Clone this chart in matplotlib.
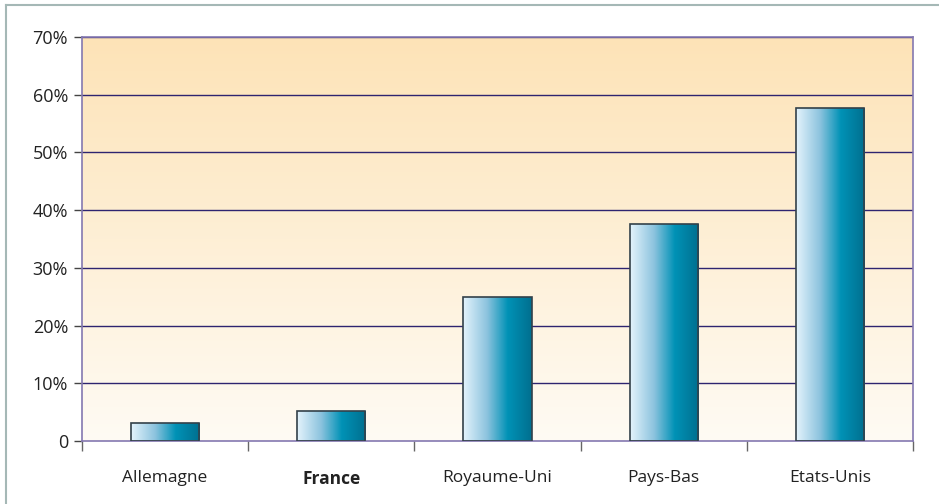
import numpy as np
import matplotlib.pyplot as plt
from matplotlib.colors import LinearSegmentedColormap
from matplotlib.lines import Line2D

# données
pays = ['Allemagne', 'France', 'Royaume-Uni', 'Pays-Bas', 'Etats-Unis']
valeurs = [3.1, 5.2, 25.0, 37.6, 57.7]
yticks = [0, 10, 20, 30, 40, 50, 60, 70]
ylabels = ['0', '10%', '20%', '30%', '40%', '50%', '60%', '70%']

plt.rcParams['font.family'] = ['Open Sans', 'DejaVu Sans']

fig = plt.figure(figsize=(9.39, 5.04), dpi=100)
ax = fig.add_axes([82/939, 1-441/504, (913-82)/939, (441-37)/504])
ax.set_xlim(-0.5, 4.5)
ax.set_ylim(0, 70)

# fond dégradé
fond = LinearSegmentedColormap.from_list('fond', ['#fffbf4', '#fde3b7'])
ax.imshow(np.linspace(0, 1, 256).reshape(-1, 1), cmap=fond, aspect='auto',
          extent=[-0.5, 4.5, 0, 70], origin='lower', zorder=0)

for y in yticks[1:]:
    ax.axhline(y, color='#2e2470', lw=1.0, zorder=1)

# barres avec dégradé horizontal
cbar = LinearSegmentedColormap.from_list('barre', [(0, '#e4f3fc'), (0.35, '#8cc3de'),
                                                   (0.65, '#0092b6'), (1, '#006f8f')])
grad = np.linspace(0, 1, 256).reshape(1, -1)
w = 0.41
bars = ax.bar(range(len(pays)), valeurs, width=w, color='none',
              edgecolor='#33414a', lw=1.2, zorder=3)
for i, b in enumerate(bars):
    im = ax.imshow(grad, cmap=cbar, aspect='auto', zorder=2,
                   extent=[i - w/2, i + w/2, 0, valeurs[i]])
    im.set_clip_path(b)

ax.set_xticks(range(len(pays)))
ax.set_xticklabels(pays, fontsize=12.5, color='#222222')
ax.get_xticklabels()[1].set_fontweight('bold')
ax.set_xticks(np.arange(-0.5, 5, 1), minor=True)
ax.tick_params(axis='x', which='major', length=0, pad=21)
ax.tick_params(axis='x', which='minor', length=7, color='#666666', width=1)
ax.set_yticks(yticks)
ax.set_yticklabels(ylabels, fontsize=13, color='#222222')
ax.tick_params(axis='y', length=6, color='#444444', width=1, pad=4)

for s in ax.spines.values():
    s.set_color('#8478b0')
    s.set_linewidth(1.2)

# cadre extérieur (haut et gauche)
fig.add_artist(Line2D([6/939, 6/939], [0, 1-5/504], color='#a5b8b6', lw=1.5))
fig.add_artist(Line2D([6/939, 1], [1-5/504, 1-5/504], color='#a5b8b6', lw=1.5))

fig.savefig('out.png', dpi=100)
